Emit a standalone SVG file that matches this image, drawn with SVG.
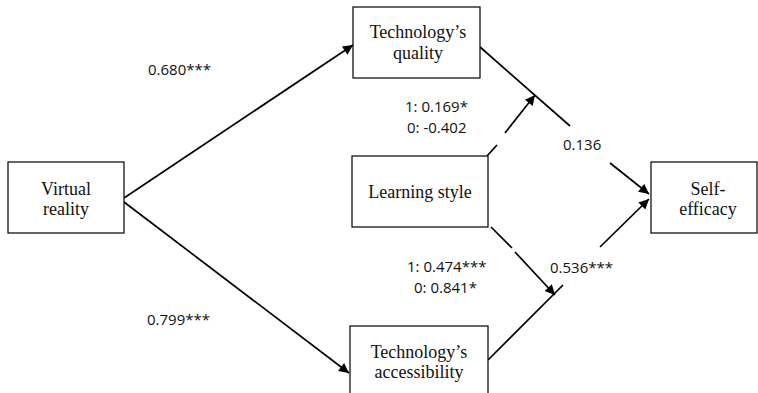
<svg xmlns="http://www.w3.org/2000/svg" width="758" height="393" viewBox="0 0 758 393">
<style>
.box{fill:#fff;stroke:#000;stroke-width:1.2}
.nt{font-family:"Liberation Serif","Times New Roman",serif;font-size:18px;fill:#111;text-anchor:middle}
.lb{font-family:"Open Sans","Liberation Sans",sans-serif;font-size:15px;fill:#111}
.ln{stroke:#000;stroke-width:1.7;fill:none}
</style>
<defs>
<marker id="ah" viewBox="0 0 10 10" refX="10" refY="5" markerWidth="11" markerHeight="10" markerUnits="userSpaceOnUse" orient="auto">
<path d="M0,0 L10,5 L0,10 z" fill="#000"/>
</marker>
</defs>
<rect width="758" height="393" fill="#fff"/>
<g id="connectors">
<line class="ln" x1="124" y1="198" x2="353" y2="45" marker-end="url(#ah)"/>
<line class="ln" x1="124" y1="202" x2="349" y2="373" marker-end="url(#ah)"/>
<line class="ln" x1="480" y1="47" x2="570" y2="126"/>
<line class="ln" x1="610" y1="163" x2="649" y2="194" marker-end="url(#ah)"/>
<line class="ln" x1="488" y1="360" x2="563" y2="285"/>
<line class="ln" x1="600" y1="247" x2="649" y2="199" marker-end="url(#ah)"/>
<line class="ln" x1="487" y1="156" x2="497" y2="145"/>
<line class="ln" x1="505" y1="133" x2="535" y2="95" marker-end="url(#ah)"/>
<line class="ln" x1="491" y1="227" x2="512" y2="248"/>
<line class="ln" x1="515" y1="252" x2="555" y2="295" marker-end="url(#ah)"/>
</g>
<g id="vr">
<rect class="box" x="8" y="162" width="116" height="71"/>
<text class="nt" x="66" y="195">Virtual</text>
<text class="nt" x="66" y="215">reality</text>
</g>
<g id="tq">
<rect class="box" x="353" y="7" width="127" height="71"/>
<text class="nt" x="418" y="38">Technology’s</text>
<text class="nt" x="418" y="59">quality</text>
</g>
<g id="ls">
<rect class="box" x="352" y="156" width="136" height="71"/>
<text class="nt" x="420" y="198">Learning style</text>
</g>
<g id="se">
<rect class="box" x="651" y="162" width="106" height="71"/>
<text class="nt" x="708" y="195">Self-</text>
<text class="nt" x="708" y="215">efficacy</text>
</g>
<g id="ta">
<rect class="box" x="350" y="326" width="138" height="80"/>
<text class="nt" x="419" y="358">Technology’s</text>
<text class="nt" x="419" y="378">accessibility</text>
</g>
<g id="labels">
<text class="lb" x="148" y="75">0.680***</text>
<text class="lb" x="147" y="325">0.799***</text>
<text class="lb" x="405" y="112">1: 0.169*</text>
<text class="lb" x="407" y="133">0: -0.402</text>
<text class="lb" x="563" y="150">0.136</text>
<text class="lb" x="407" y="272">1: 0.474***</text>
<text class="lb" x="414" y="293">0: 0.841*</text>
<text class="lb" x="550" y="273">0.536***</text>
</g>
</svg>
